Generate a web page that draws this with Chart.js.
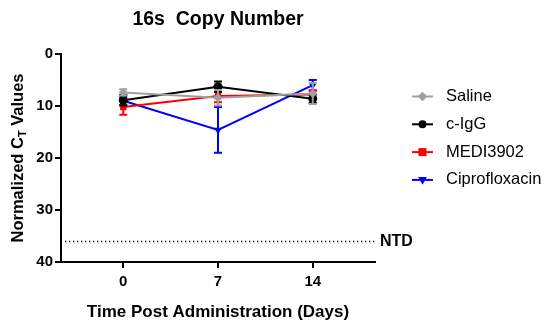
<!DOCTYPE html>
<html><head><meta charset="utf-8">
<script src="https://cdn.jsdelivr.net/npm/chart.js@4/dist/chart.umd.min.js"></script>
<style>html,body{margin:0;padding:0;background:#fff}#wrap{position:relative;width:547px;height:328px}</style>
</head><body><div id="wrap"><canvas id="c" width="547" height="328"></canvas></div>
<script>
const days = [0, 7, 14];
const xTicks = [0, 7, 14];
const yTicks = [0, 10, 20, 30, 40];
const seriesNames = ['Saline', 'c-IgG', 'MEDI3902', 'Ciprofloxacin'];
const salineMean = [7.4, 8.4, 7.6];
const salineErr = [0.6, 1.5, 2.0];
const ciggMean = [8.9, 6.3, 8.6];
const ciggErr = [1.0, 1.0, 0.8];
const mediMean = [10.2, 8.1, 7.8];
const mediErr = [1.5, 1.2, 0.8];
const ciproMean = [9.0, 14.6, 6.0];
const ciproErr = [0.8, 4.4, 1.0];
const ntdValue = 36;
const titleText = '16s  Copy Number';
const xTitle = 'Time Post Administration (Days)';

const FONT = '"Liberation Sans", Arial, sans-serif';
const colors = ['#a0a0a0', '#000000', '#ff0000', '#0000ff'];
const styles = ['rectRot', 'circle', 'rect', 'triangle'];
const rotations = [0, 0, 0, 180];
const means = [salineMean, ciggMean, mediMean, ciproMean];
const errs = [salineErr, ciggErr, mediErr, ciproErr];

const datasets = seriesNames.map((n, i) => ({
  label: n,
  data: days.map((d, j) => ({x: d, y: means[i][j]})),
  errors: errs[i],
  borderColor: colors[i],
  backgroundColor: colors[i],
  borderWidth: 2,
  pointStyle: styles[i],
  pointRotation: rotations[i],
  pointRadius: 4.5,
  pointBorderWidth: 0,
  tension: 0,
  fill: false
}));

function drawMarker(ctx, style, x, y, r, color, rot) {
  ctx.save();
  ctx.fillStyle = color;
  ctx.translate(x, y);
  ctx.rotate(rot * Math.PI / 180);
  ctx.beginPath();
  if (style === 'circle') ctx.arc(0, 0, r, 0, Math.PI * 2);
  else if (style === 'rect') ctx.rect(-r, -r, 2 * r, 2 * r);
  else if (style === 'rectRot') { ctx.moveTo(0, -r * 1.2); ctx.lineTo(r * 1.2, 0); ctx.lineTo(0, r * 1.2); ctx.lineTo(-r * 1.2, 0); ctx.closePath(); }
  else if (style === 'triangle') { ctx.moveTo(0, -r * 1.2); ctx.lineTo(r * 1.1, r * 0.7); ctx.lineTo(-r * 1.1, r * 0.7); ctx.closePath(); }
  ctx.fill();
  ctx.restore();
}

const errPlugin = {
  id: 'errbars',
  beforeDatasetDraw(chart, args) {
    const ds = chart.data.datasets[args.index];
    const xs = chart.scales.x, ys = chart.scales.y;
    const ctx = chart.ctx;
    ctx.save();
    ctx.strokeStyle = ds.borderColor;
    ctx.lineWidth = 2;
    ds.data.forEach((p, j) => {
      const e = ds.errors[j];
      const px = xs.getPixelForValue(p.x);
      const y1 = ys.getPixelForValue(p.y - e), y2 = ys.getPixelForValue(p.y + e);
      ctx.beginPath();
      ctx.moveTo(px, y1); ctx.lineTo(px, y2);
      ctx.moveTo(px - 4, y1); ctx.lineTo(px + 4, y1);
      ctx.moveTo(px - 4, y2); ctx.lineTo(px + 4, y2);
      ctx.stroke();
    });
    ctx.restore();
  },
  beforeDatasetsDraw(chart) {
    const ctx = chart.ctx, ca = chart.chartArea, ys = chart.scales.y;
    const yp = Math.round(ys.getPixelForValue(ntdValue)) + 0.5;
    ctx.save();
    ctx.strokeStyle = '#000'; ctx.lineWidth = 1.3;
    ctx.setLineDash([1.3, 2.7]);
    ctx.beginPath(); ctx.moveTo(ca.left + 4, yp); ctx.lineTo(ca.right + 2, yp); ctx.stroke();
    ctx.setLineDash([]);
    ctx.fillStyle = '#000'; ctx.font = 'bold 16px ' + FONT;
    ctx.textBaseline = 'middle'; ctx.textAlign = 'left';
    ctx.fillText('NTD', ca.right + 5, yp);
    ctx.restore();
  },
  afterDraw(chart) {
    const ctx = chart.ctx, ca = chart.chartArea;
    const cx = (ca.left + ca.right) / 2;
    ctx.save();
    ctx.fillStyle = '#000';
    ctx.font = 'bold 19.5px ' + FONT;
    ctx.textAlign = 'center'; ctx.textBaseline = 'middle';
    ctx.fillText(titleText, cx, 20);
    ctx.font = 'bold 17px ' + FONT;
    ctx.fillText(xTitle, cx, 312);
    // y title with subscript
    ctx.save();
    ctx.translate(18, (ca.top + ca.bottom) / 2);
    ctx.rotate(-Math.PI / 2);
    const p1 = 'Normalized C', sub = 'T', p2 = ' Values';
    ctx.font = 'bold 16.5px ' + FONT;
    const w1 = ctx.measureText(p1).width, w3 = ctx.measureText(p2).width;
    ctx.font = 'bold 11px ' + FONT;
    const w2 = ctx.measureText(sub).width;
    let x0 = -(w1 + w2 + w3) / 2;
    ctx.textAlign = 'left';
    ctx.font = 'bold 16.5px ' + FONT;
    ctx.fillText(p1, x0, 0);
    ctx.font = 'bold 11px ' + FONT;
    ctx.fillText(sub, x0 + w1, 4.5);
    ctx.font = 'bold 16.5px ' + FONT;
    ctx.fillText(p2, x0 + w1 + w2, 0);
    ctx.restore();
    // legend
    const lx = 412, ly0 = 96.5, dy = 27.8;
    chart.data.datasets.forEach((ds, i) => {
      const y = ly0 + i * dy;
      ctx.strokeStyle = ds.borderColor; ctx.lineWidth = 2;
      ctx.beginPath(); ctx.moveTo(lx, y); ctx.lineTo(lx + 21, y); ctx.stroke();
      drawMarker(ctx, styles[i], lx + 10.5, y, 4, ds.borderColor, rotations[i]);
      ctx.fillStyle = '#000';
      ctx.font = '16.5px ' + FONT;
      ctx.textAlign = 'left'; ctx.textBaseline = 'middle';
      ctx.fillText(ds.label, 446, y);
    });
    ctx.restore();
  }
};

new Chart(document.getElementById('c'), {
  type: 'line',
  data: {datasets},
  options: {
    responsive: false, animation: false,
    layout: {padding: {left: 0, right: 172, top: 54, bottom: 0}},
    plugins: {legend: {display: false}, tooltip: {enabled: false}, title: {display: false}},
    scales: {
      x: {
        type: 'linear', min: -4.6, max: 18.6,
        afterBuildTicks(s) { s.ticks = xTicks.map(v => ({value: v})); },
        afterFit(s) { s.height = 66; },
        grid: {drawOnChartArea: false, color: '#000', lineWidth: 2, tickLength: 6},
        border: {color: '#000', width: 2},
        ticks: {color: '#000', font: {family: FONT, size: 15, weight: 'bold'}, padding: 5, maxRotation: 0}
      },
      y: {
        type: 'linear', reverse: true, min: 0, max: 40,
        afterBuildTicks(s) { s.ticks = yTicks.map(v => ({value: v})); },
        afterFit(s) { s.width = 61; },
        grid: {drawOnChartArea: false, color: '#000', lineWidth: 2, tickLength: 6},
        border: {color: '#000', width: 2},
        ticks: {color: '#000', font: {family: FONT, size: 15, weight: 'bold'}, padding: 2}
      }
    }
  },
  plugins: [errPlugin]
});
</script></body></html>
